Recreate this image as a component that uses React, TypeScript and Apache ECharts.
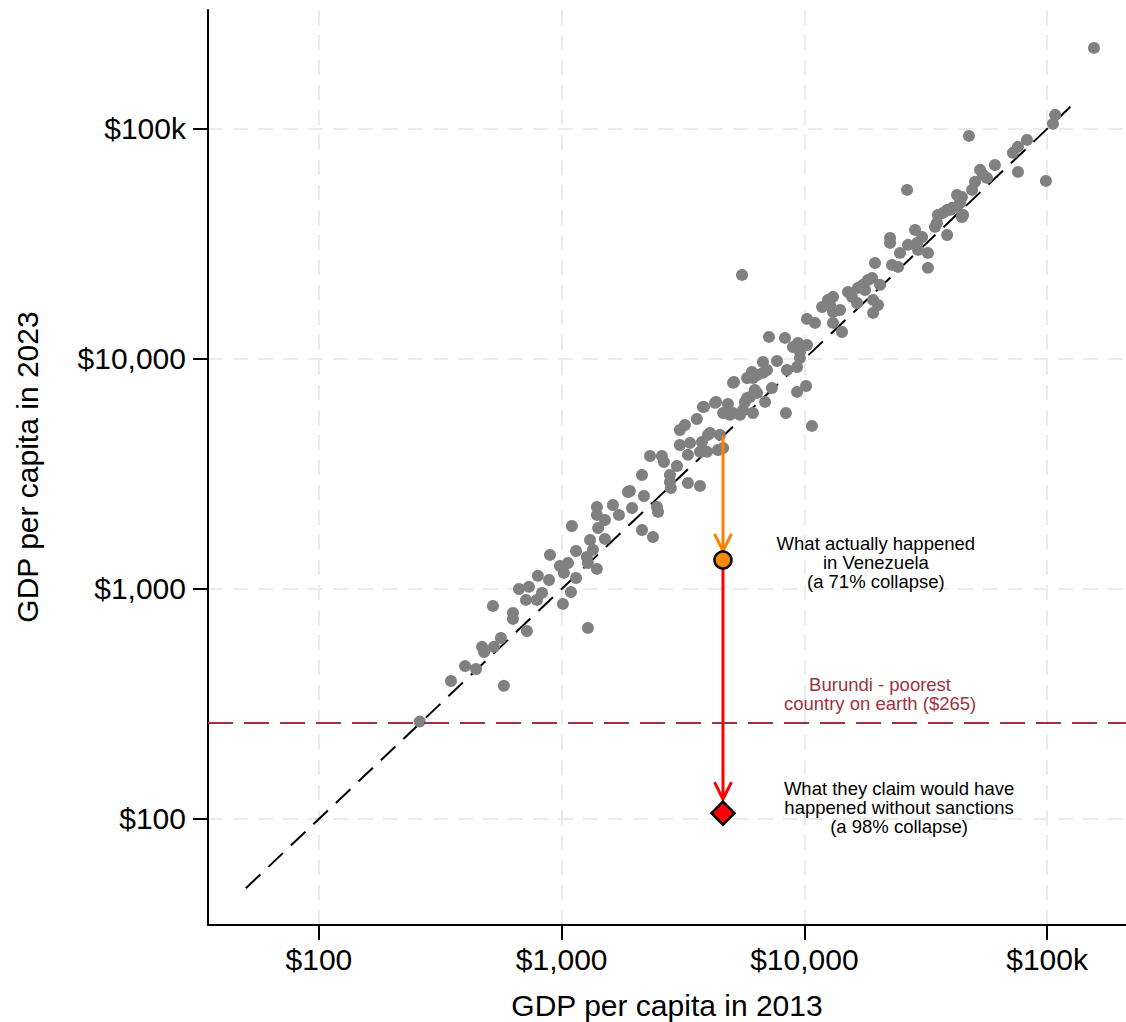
import React, { useEffect, useRef } from "react";
import * as echarts from "echarts";

// Tick values and labels (dollars)
const tickValues = [100, 1000, 10000, 100000];
const tickLabels = ["$100", "$1,000", "$10,000", "$100k"];

// Country GDP per capita, 2013 (x) and 2023 (y)
const gdp2013 = [
  260, 350, 400, 444, 578, 470, 479, 526, 562, 521, 630, 630, 719, 667, 733, 713, 791, 830, 798, 887,
  1012, 1092, 1146, 1021, 984, 1062, 1283, 1283, 1397, 895, 1102, 1146, 1271, 1309, 1346, 1413, 1397, 1397, 1507, 1507,
  1626, 1722, 1875, 1950, 2143, 2378, 2143, 2183, 2471, 2494, 2312, 2588, 2638, 2985, 2793, 2793, 2818, 3313, 3715, 3069,
  3380, 3784, 3715, 3972, 3313, 1910, 3069, 3221, 3606, 4009, 4487, 3857, 4285, 4624, 4842, 5082, 5433, 6138, 5082, 5805,
  6383, 5805, 6383, 6750, 6887, 4406, 4624, 4083, 7145, 8318, 8974, 9414, 10250, 9590, 9590, 10250, 11060, 11830, 12750, 13120,
  14020, 13120, 14290, 6750, 7013, 7710, 8475, 9330, 6081, 6138, 5129, 7350, 6252, 5970, 5690, 9330, 10160, 4325, 4933, 5585,
  3821, 8395, 10740, 12510, 13120, 15130, 15710, 16630, 17420, 18280, 19010, 20510, 17780, 16480, 19190, 20100, 19190, 19540, 22540, 22540,
  22960, 24320, 24770, 26730, 28580, 30550, 29380, 29110, 32280, 32280, 34510, 35480, 37240, 38730, 40550, 42560, 43750, 45080, 38730, 26490,
  47640, 107900, 105700, 82640, 72280, 75860, 75860, 98860, 60960, 52940, 54450, 56510, 50470, 49090, 42560, 44570, 39810, 44570, 35160, 156000,
  5534,
];
const gdp2023 = [
  265, 398, 462, 449, 379, 560, 532, 560, 612, 844, 787, 741, 656, 1000, 1021, 896, 896, 961, 1140, 1094,
  861, 970, 1116, 1174, 1259, 1297, 677, 1297, 1222, 1406, 1879, 1463, 1377, 1634, 1479, 1841, 2099, 2274, 1995, 1650,
  2318, 2099, 2640, 2250, 1805, 1683, 3130, 2535, 2274, 2163, 3786, 3786, 3566, 3426, 3130, 2917, 2748, 2890, 2805, 4227,
  4315, 4355, 3945, 3945, 3828, 2667, 4911, 5165, 5483, 4677, 4677, 6185, 6442, 5823, 6368, 5823, 5715, 5823, 7870, 6766,
  7116, 8268, 8519, 8700, 6505, 4018, 4102, 4768, 12470, 12340, 11270, 11740, 11500, 10720, 10100, 14930, 14340, 16830, 17170, 16000,
  16330, 14340, 13100, 9700, 8955, 9800, 8955, 9230, 8780, 8268, 7943, 7480, 7330, 6835, 6505, 7190, 7630, 6505, 5715, 6000,
  6185, 5823, 5115, 18060, 18620, 19550, 18620, 20370, 20990, 22040, 22510, 20990, 19950, 17510, 18060, 17170, 15850, 26140, 33590, 31940,
  25630, 25120, 28900, 31330, 36390, 33900, 29780, 31940, 28900, 24890, 37500, 42270, 43150, 44460, 45390, 45810, 47640, 42270, 34590, 54310,
  93260, 115100, 105200, 89570, 78700, 83560, 65030, 59430, 69710, 66370, 63100, 61230, 58880, 54310, 51640, 50590, 44460, 41400, 39000, 225000,
  23190,
];

// Reference lines
const diagonalEnds = [50, 130000];
const burundiLevel = 265;

// Venezuela
const venezuela2013 = 4620;
const venezuelaActual = 1335;
const venezuelaClaim = 106;
const arrowFrom = [4620, 1233];
const arrowTo = [1463, 122];
const arrowColors = ["#ff8000", "#ff0000"];

// Annotations (anchored in data space)
const annotationTexts = [
  "What actually happened\nin Venezuela\n(a 71% collapse)",
  "What they claim would have\nhappened without sanctions\n(a 98% collapse)",
  "Burundi - poorest\ncountry on earth ($265)",
];
const annotationX = [19700, 24550, 20500];
const annotationY = [1297, 111.6, 349];
const annotationColors = ["#000000", "#000000", "#a0323c"];

const FONT = '"Liberation Sans", Arial, Helvetica, sans-serif';
const L = (v: number) => Math.log10(v);
const tickLogs = tickValues.map(L);
const fmt = (v: number) => {
  for (let i = 0; i < tickLogs.length; i++) {
    if (Math.abs(tickLogs[i] - v) < 1e-6) return tickLabels[i];
  }
  return "";
};

function makeAxis(min: number, max: number, isX: boolean) {
  return {
    type: "value",
    min,
    max,
    axisLine: { show: true, onZero: false, lineStyle: { color: "#000", width: 2 } },
    axisTick: {
      show: true,
      length: 15,
      customValues: tickLogs,
      lineStyle: { color: "#000", width: 2 },
    },
    axisLabel: {
      customValues: tickLogs,
      formatter: (v: number) => fmt(v),
      fontSize: 30,
      fontFamily: FONT,
      color: "#000",
      margin: isX ? 19 : 22,
    },
    splitLine: {
      show: true,
      showMinLine: true,
      showMaxLine: true,
      lineStyle: { color: "#ebebeb", width: 2, type: [15, 10] },
    },
  };
}

export default function App() {
  const ref = useRef<HTMLDivElement>(null);
  useEffect(() => {
    if (!ref.current) return;
    const chart = echarts.init(ref.current, undefined, { renderer: "svg" });
    const points = gdp2013.map((x, i) => [L(x), L(gdp2023[i])]);
    const option: any = {
      animation: false,
      backgroundColor: "#ffffff",
      grid: { left: 208, right: 0, top: 10, bottom: 97, containLabel: false, outerBoundsMode: "none" },
      xAxis: makeAxis(1.543, 5.325, true),
      yAxis: makeAxis(1.539, 5.517, false),
      graphic: [
        {
          type: "text",
          x: 667,
          y: 1005,
          style: {
            text: "GDP per capita in 2013",
            font: `30px ${FONT}`,
            fill: "#000",
            align: "center",
            verticalAlign: "middle",
          },
        },
        {
          type: "text",
          x: 27,
          y: 467,
          rotation: Math.PI / 2,
          style: {
            text: "GDP per capita in 2023",
            font: `30px ${FONT}`,
            fill: "#000",
            align: "center",
            verticalAlign: "middle",
          },
        },
      ],
      series: [
        {
          type: "line",
          data: diagonalEnds.map((v) => [L(v), L(v)]),
          symbol: "none",
          silent: true,
          z: 1,
          lineStyle: { color: "#000", width: 2, type: [20, 11] },
          markLine: {
            silent: true,
            symbol: ["none", "none"],
            label: { show: false },
            lineStyle: { color: "#a0323c", width: 2, type: [25, 11] },
            data: [{ yAxis: L(burundiLevel) }],
          },
        },
        {
          type: "scatter",
          data: points,
          symbol: "circle",
          symbolSize: 12,
          itemStyle: { color: "#808080", opacity: 1 },
          z: 2,
        },
        {
          type: "custom",
          z: 3,
          clip: false,
          data: arrowFrom.map((f, i) => [L(venezuela2013), L(f), L(arrowTo[i])]),
          renderItem: (params: any, api: any) => {
            const x = api.value(0);
            const p1 = api.coord([x, api.value(1)]);
            const p2 = api.coord([x, api.value(2)]);
            const color = arrowColors[params.dataIndex];
            const dx = p2[0] - p1[0];
            const dy = p2[1] - p1[1];
            const len = Math.hypot(dx, dy) || 1;
            const ux = dx / len;
            const uy = dy / len;
            const back = 17;
            const side = 8.5;
            const a = [p2[0] - ux * back - uy * side, p2[1] - uy * back + ux * side];
            const b = [p2[0] - ux * back + uy * side, p2[1] - uy * back - ux * side];
            return {
              type: "group",
              children: [
                {
                  type: "line",
                  shape: { x1: p1[0], y1: p1[1], x2: p2[0], y2: p2[1] },
                  style: { stroke: color, lineWidth: 3 },
                },
                {
                  type: "polyline",
                  shape: { points: [a, p2, b] },
                  style: { stroke: color, lineWidth: 3, fill: null },
                },
              ],
            };
          },
        },
        {
          type: "scatter",
          z: 4,
          data: [[L(venezuela2013), L(venezuelaActual)]],
          symbol: "circle",
          symbolSize: 17,
          itemStyle: { color: "#f5890c", borderColor: "#000", borderWidth: 2.5, opacity: 1 },
        },
        {
          type: "scatter",
          z: 4,
          data: [[L(venezuela2013), L(venezuelaClaim)]],
          symbol: "diamond",
          symbolSize: [23, 23],
          itemStyle: { color: "#ff0000", borderColor: "#000", borderWidth: 2.5, opacity: 1 },
        },
        {
          type: "scatter",
          z: 5,
          silent: true,
          symbolSize: 1,
          itemStyle: { color: "rgba(255,255,255,0)", opacity: 1 },
          data: annotationTexts.map((t, i) => ({
            value: [L(annotationX[i]), L(annotationY[i])],
            label: {
              show: true,
              position: "inside",
              formatter: t,
              color: annotationColors[i],
              opacity: 1,
              fontSize: 18.5,
              lineHeight: 19,
              fontFamily: FONT,
              align: "center",
              verticalAlign: "middle",
            },
          })),
        },
      ],
    };
    chart.setOption(option);
    return () => chart.dispose();
  }, []);
  return (
    <div
      ref={ref}
      style={{ position: "absolute", left: 0, top: 0, width: 1126, height: 1022, background: "#fff" }}
    />
  );
}
